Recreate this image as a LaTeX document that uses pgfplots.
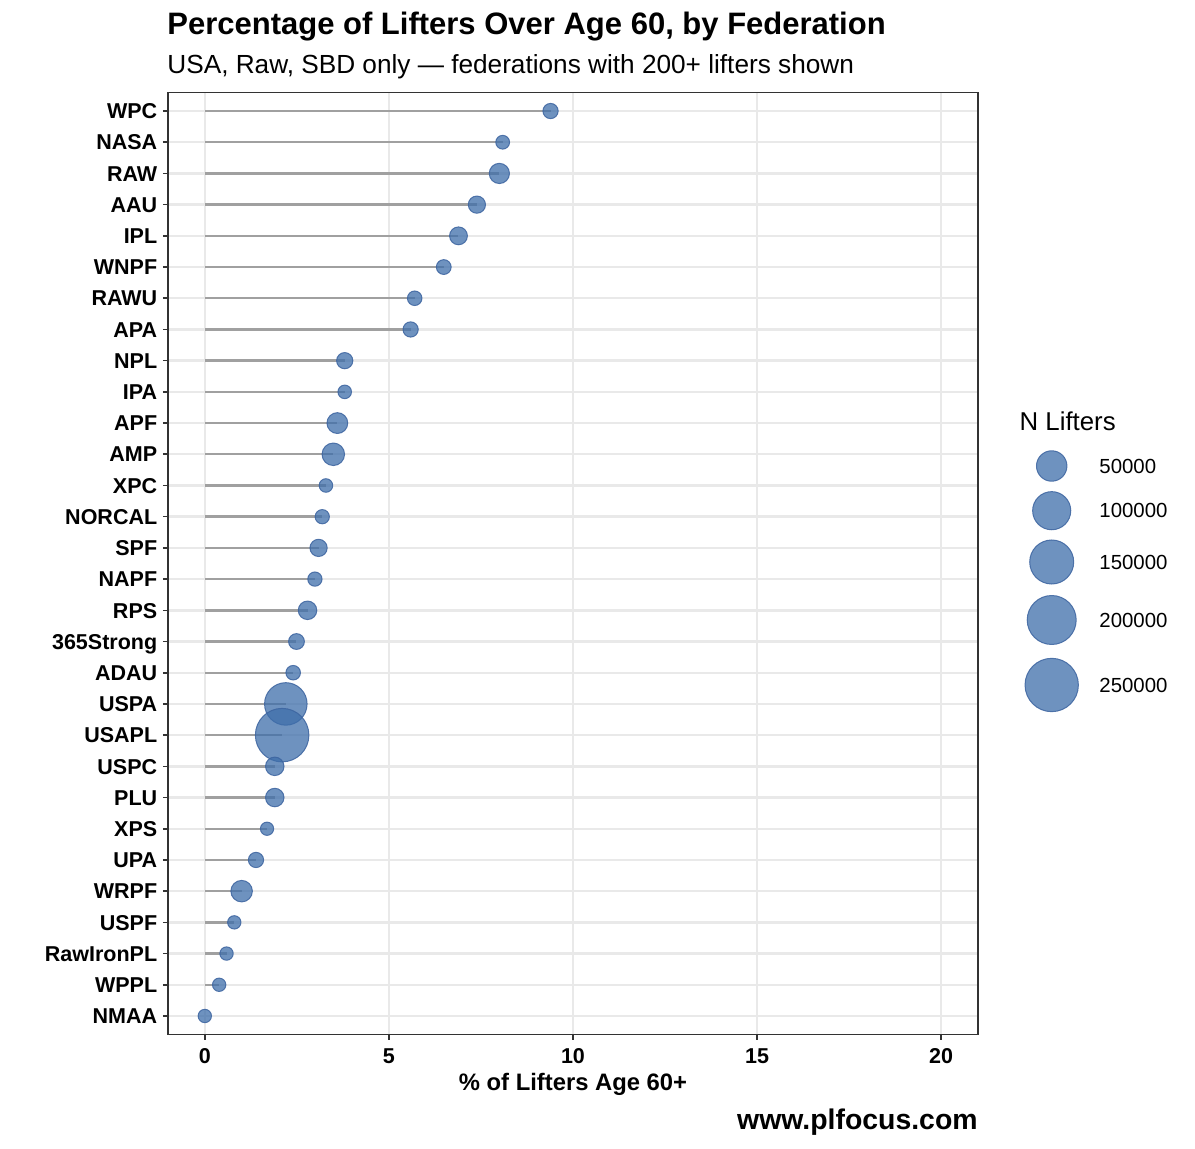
\documentclass[border=0pt]{standalone}
\usepackage{fontspec}
\setmainfont{Liberation Sans}
\usepackage{pgfplots}
\usepackage{pgfplotstable}
\pgfplotsset{compat=1.18}
\definecolor{gridgray}{RGB}{233,233,233}
\definecolor{ggdark}{RGB}{51,51,51}
\definecolor{seggray}{RGB}{160,160,160}
\definecolor{ptfill}{RGB}{62,110,170}
\definecolor{ptdraw}{RGB}{60,100,160}

% pos = row (1 = bottom), pct = % of lifters age 60+, nk = number of lifters (thousands)
\pgfplotstableread{
fed        pos  pct   nk
WPC        30   9.39  1.6
NASA       29   8.09  0.5
RAW        28   8.00  10.0
AAU        27   7.39  4.1
IPL        26   6.89  5.1
WNPF       25   6.49  1.2
RAWU       24   5.70  1.0
APA        23   5.59  1.6
NPL        22   3.80  2.7
IPA        21   3.80  0.4
APF        20   3.60  11.5
AMP        19   3.49  16.4
XPC        18   3.29  0.4
NORCAL     17   3.19  0.8
SPF        16   3.09  4.1
NAPF       15   2.99  0.8
RPS        14   2.79  6.3
365Strong  13   2.49  2.2
ADAU       12   2.40  1.0
USPA       11   2.20  136.3
USAPL      10   2.10  252.0
USPC       9    1.90  6.3
PLU        8    1.90  6.3
XPS        7    1.69  0.25
UPA        6    1.39  1.6
WRPF       5    1.00  13.4
USPF       4    0.80  0.3
RawIronPL  3    0.59  0.3
WPPL       2    0.39  0.3
NMAA       1    0.00  0.3
}\datatable

\pgfplotstableread{
x       y     nk
1051.7  -466  50
1051.7  -510.7 100
1051.7  -562  150
1051.7  -620  200
1051.7  -685  250
}\legtable

\pgfplotsset{
  bubble/.style={
    scatter, only marks, mark=*,
    scatter/use mapped color={draw=ptdraw, fill=ptfill, fill opacity=0.75, draw opacity=0.85},
    mark options={line width=0.5pt},
    visualization depends on={(12.4+41.6*sqrt(\thisrow{nk}/252))/4-0.12 \as \rad},
    scatter/@pre marker code/.append style={/tikz/mark size=\rad pt},
  }
}

\begin{document}
\begin{tikzpicture}
\path[use as bounding box] (0,0) rectangle (597.5pt,574pt);

\begin{axis}[
  at={(84pt,56.65pt)}, anchor=south west,
  scale only axis, width=405pt, height=471.2pt,
  xmin=-1, xmax=21, ymin=0.4, ymax=30.6,
  xtick={0,5,10,15,20},
  ytick={1,...,30},
  yticklabels={NMAA,WPPL,RawIronPL,USPF,WRPF,UPA,XPS,PLU,USPC,USAPL,USPA,ADAU,365Strong,RPS,NAPF,SPF,NORCAL,XPC,AMP,APF,IPA,NPL,APA,RAWU,WNPF,IPL,AAU,RAW,NASA,WPC},
  /pgf/number format/assume math mode=true,
  xtick pos=lower, ytick pos=left,
  tick align=outside,
  major tick length=2.6pt,
  tick style={color=ggdark, line width=0.8pt},
  axis line style={color=ggdark, line width=0.55pt},
  grid=major,
  major grid style={color=gridgray, line width=1.2pt},
  xticklabel style={font=\fontsize{10.75}{12}\selectfont\bfseries, anchor=base, inner sep=0pt, yshift=-11.6pt, text=black},
  yticklabel style={font=\fontsize{10.75}{12}\selectfont\bfseries, anchor=base east, inner sep=0pt, xshift=-2.6pt, yshift=-3.85pt, text=black},
  xlabel={\% of Lifters Age 60+},
  xlabel style={at={(axis description cs:0.5,0)}, anchor=base, inner sep=0pt, yshift=-28pt, font=\fontsize{11.9}{13}\selectfont\bfseries},
  clip=false,
]
\addplot[xcomb, color=seggray, line width=1.2pt] table[x=pct, y=pos] {\datatable};
\addplot[bubble] table[x=pct, y=pos] {\datatable};
\end{axis}

% size legend
\begin{axis}[
  at={(500pt,174pt)}, anchor=south west,
  scale only axis, width=50pt, height=210pt,
  xmin=1000, xmax=1100, ymin=-800, ymax=-380,
  hide axis, clip=false,
]
\addplot[bubble] table[x=x, y=y] {\legtable};
\node[anchor=base west, inner sep=0pt, font=\fontsize{12.9}{14}\selectfont] at (axis cs:1019.3,-430.7) {N Lifters};
\node[anchor=base west, inner sep=0pt, yshift=-3.65pt, font=\fontsize{10.2}{12}\selectfont] at (axis cs:1099,-466) {50000};
\node[anchor=base west, inner sep=0pt, yshift=-3.65pt, font=\fontsize{10.2}{12}\selectfont] at (axis cs:1099,-510.7) {100000};
\node[anchor=base west, inner sep=0pt, yshift=-3.65pt, font=\fontsize{10.2}{12}\selectfont] at (axis cs:1099,-562) {150000};
\node[anchor=base west, inner sep=0pt, yshift=-3.65pt, font=\fontsize{10.2}{12}\selectfont] at (axis cs:1099,-620) {200000};
\node[anchor=base west, inner sep=0pt, yshift=-3.65pt, font=\fontsize{10.2}{12}\selectfont] at (axis cs:1099,-685) {250000};
\end{axis}

\node[anchor=base west, inner sep=0pt, font=\fontsize{15.5}{18}\selectfont\bfseries] at (83.5pt,556.5pt) {Percentage of Lifters Over Age 60, by Federation};
\node[anchor=base west, inner sep=0pt, font=\fontsize{13.1}{15}\selectfont] at (83.5pt,537pt) {USA, Raw, SBD only — federations with 200+ lifters shown};
\node[anchor=base east, inner sep=0pt, font=\fontsize{14.2}{16}\selectfont\bfseries] at (489pt,9.5pt) {www.plfocus.com};
\end{tikzpicture}
\end{document}
